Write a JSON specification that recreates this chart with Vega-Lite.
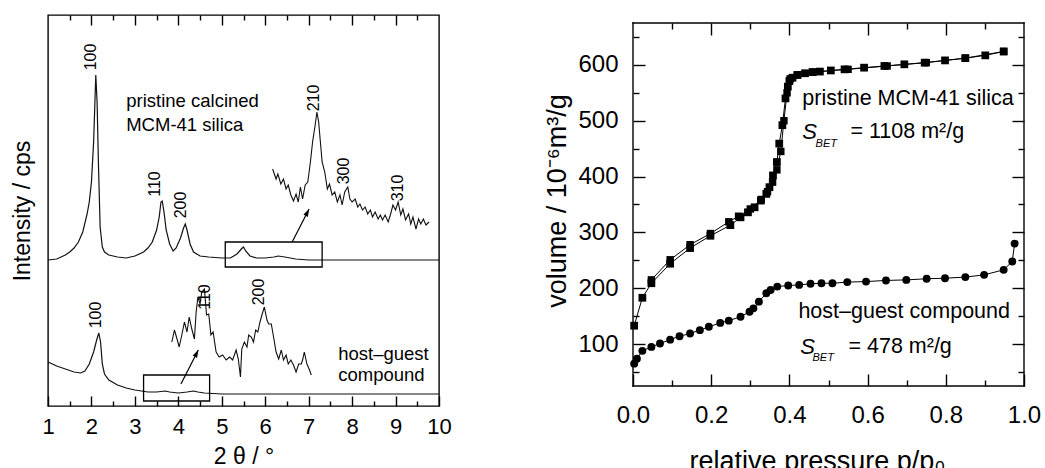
{
  "$schema": "https://vega.github.io/schema/vega-lite/v6.json",
  "padding": {"left": 10, "top": 13, "right": 0, "bottom": 0},
  "spacing": 91,
  "config": {
    "font": "Liberation Sans",
    "view": {"stroke": "black", "strokeWidth": 1.4},
    "axis": {"grid": false, "domain": false, "labelFlush": false, "labelOverlap": false, "tickColor": "black", "tickWidth": 1.4, "labelColor": "black", "titleColor": "black", "labelFont": "Liberation Sans", "titleFont": "Liberation Sans", "titleFontWeight": "normal", "labelFontWeight": "normal"}
  },
  "datasets": {
    "up": [
      {"t": 1.0, "v": 146}, {"t": 1.2, "v": 147}, {"t": 1.4, "v": 151}, {"t": 1.5, "v": 154}, {"t": 1.6, "v": 158}, {"t": 1.7, "v": 164}, {"t": 1.8, "v": 174}, {"t": 1.9, "v": 192}, {"t": 1.95, "v": 204}, {"t": 2.0, "v": 224}, {"t": 2.05, "v": 264}, {"t": 2.08, "v": 304}, {"t": 2.1, "v": 331}, {"t": 2.13, "v": 304}, {"t": 2.16, "v": 244}, {"t": 2.2, "v": 179}, {"t": 2.25, "v": 159}, {"t": 2.3, "v": 154}, {"t": 2.4, "v": 151}, {"t": 2.6, "v": 149}, {"t": 2.8, "v": 148}, {"t": 3.0, "v": 150}, {"t": 3.2, "v": 154}, {"t": 3.3, "v": 158}, {"t": 3.4, "v": 164}, {"t": 3.5, "v": 176}, {"t": 3.56, "v": 189}, {"t": 3.6, "v": 204}, {"t": 3.63, "v": 205}, {"t": 3.67, "v": 194}, {"t": 3.72, "v": 176}, {"t": 3.8, "v": 162}, {"t": 3.88, "v": 155}, {"t": 3.95, "v": 158}, {"t": 4.05, "v": 168}, {"t": 4.12, "v": 178}, {"t": 4.16, "v": 182}, {"t": 4.2, "v": 176}, {"t": 4.27, "v": 162}, {"t": 4.35, "v": 154}, {"t": 4.5, "v": 150}, {"t": 4.7, "v": 149}, {"t": 5.0, "v": 148}, {"t": 5.2, "v": 148}, {"t": 5.35, "v": 152}, {"t": 5.45, "v": 157}, {"t": 5.5, "v": 159}, {"t": 5.55, "v": 155}, {"t": 5.65, "v": 150}, {"t": 5.8, "v": 148}, {"t": 6.0, "v": 148}, {"t": 6.2, "v": 149}, {"t": 6.3, "v": 150}, {"t": 6.45, "v": 149}, {"t": 6.7, "v": 147}, {"t": 7.0, "v": 146}, {"t": 7.5, "v": 146}, {"t": 8.0, "v": 146}, {"t": 9.0, "v": 146}, {"t": 10.0, "v": 146}
    ],
    "upi": [
      {"t": 6.17, "v": 237}, {"t": 6.25, "v": 227}, {"t": 6.29, "v": 232}, {"t": 6.36, "v": 222}, {"t": 6.42, "v": 227}, {"t": 6.48, "v": 217}, {"t": 6.53, "v": 221}, {"t": 6.59, "v": 211}, {"t": 6.65, "v": 205}, {"t": 6.71, "v": 212}, {"t": 6.76, "v": 204}, {"t": 6.81, "v": 219}, {"t": 6.86, "v": 207}, {"t": 6.92, "v": 221}, {"t": 6.98, "v": 224}, {"t": 7.04, "v": 244}, {"t": 7.09, "v": 264}, {"t": 7.15, "v": 281}, {"t": 7.19, "v": 294}, {"t": 7.23, "v": 284}, {"t": 7.27, "v": 264}, {"t": 7.31, "v": 244}, {"t": 7.37, "v": 234}, {"t": 7.43, "v": 217}, {"t": 7.48, "v": 222}, {"t": 7.54, "v": 211}, {"t": 7.6, "v": 214}, {"t": 7.66, "v": 204}, {"t": 7.72, "v": 211}, {"t": 7.77, "v": 201}, {"t": 7.83, "v": 214}, {"t": 7.9, "v": 219}, {"t": 7.95, "v": 207}, {"t": 8.0, "v": 204}, {"t": 8.07, "v": 207}, {"t": 8.13, "v": 199}, {"t": 8.18, "v": 202}, {"t": 8.24, "v": 196}, {"t": 8.3, "v": 199}, {"t": 8.36, "v": 192}, {"t": 8.42, "v": 196}, {"t": 8.47, "v": 189}, {"t": 8.53, "v": 194}, {"t": 8.6, "v": 187}, {"t": 8.65, "v": 191}, {"t": 8.7, "v": 186}, {"t": 8.76, "v": 191}, {"t": 8.83, "v": 184}, {"t": 8.88, "v": 191}, {"t": 8.94, "v": 201}, {"t": 9.0, "v": 196}, {"t": 9.06, "v": 204}, {"t": 9.12, "v": 191}, {"t": 9.17, "v": 197}, {"t": 9.23, "v": 186}, {"t": 9.3, "v": 192}, {"t": 9.35, "v": 182}, {"t": 9.4, "v": 189}, {"t": 9.47, "v": 177}, {"t": 9.53, "v": 187}, {"t": 9.58, "v": 182}, {"t": 9.64, "v": 187}, {"t": 9.7, "v": 181}, {"t": 9.77, "v": 184}
    ],
    "lo": [
      {"t": 1.0, "v": 44}, {"t": 1.2, "v": 40}, {"t": 1.4, "v": 37}, {"t": 1.6, "v": 34}, {"t": 1.75, "v": 33}, {"t": 1.85, "v": 35}, {"t": 1.95, "v": 42}, {"t": 2.05, "v": 54}, {"t": 2.12, "v": 66}, {"t": 2.17, "v": 73}, {"t": 2.21, "v": 64}, {"t": 2.25, "v": 42}, {"t": 2.3, "v": 32}, {"t": 2.4, "v": 26}, {"t": 2.6, "v": 21}, {"t": 2.8, "v": 18}, {"t": 3.0, "v": 16}, {"t": 3.3, "v": 14}, {"t": 3.5, "v": 14}, {"t": 3.7, "v": 15}, {"t": 3.8, "v": 14}, {"t": 4.0, "v": 13}, {"t": 4.2, "v": 14}, {"t": 4.35, "v": 15}, {"t": 4.45, "v": 14}, {"t": 4.6, "v": 13}, {"t": 5.0, "v": 12}, {"t": 6.0, "v": 12}, {"t": 8.0, "v": 12}, {"t": 10.0, "v": 12}
    ],
    "loi": [
      {"t": 3.85, "v": 64}, {"t": 3.91, "v": 76}, {"t": 3.97, "v": 67}, {"t": 4.02, "v": 59}, {"t": 4.08, "v": 71}, {"t": 4.14, "v": 84}, {"t": 4.2, "v": 74}, {"t": 4.25, "v": 89}, {"t": 4.31, "v": 77}, {"t": 4.37, "v": 67}, {"t": 4.41, "v": 94}, {"t": 4.45, "v": 109}, {"t": 4.5, "v": 102}, {"t": 4.54, "v": 114}, {"t": 4.6, "v": 117}, {"t": 4.65, "v": 91}, {"t": 4.7, "v": 92}, {"t": 4.75, "v": 71}, {"t": 4.8, "v": 74}, {"t": 4.87, "v": 54}, {"t": 4.94, "v": 49}, {"t": 5.02, "v": 51}, {"t": 5.1, "v": 46}, {"t": 5.18, "v": 49}, {"t": 5.25, "v": 46}, {"t": 5.33, "v": 56}, {"t": 5.38, "v": 47}, {"t": 5.43, "v": 29}, {"t": 5.46, "v": 57}, {"t": 5.52, "v": 64}, {"t": 5.58, "v": 59}, {"t": 5.62, "v": 71}, {"t": 5.68, "v": 69}, {"t": 5.73, "v": 64}, {"t": 5.78, "v": 76}, {"t": 5.83, "v": 74}, {"t": 5.88, "v": 84}, {"t": 5.93, "v": 92}, {"t": 5.98, "v": 99}, {"t": 6.04, "v": 86}, {"t": 6.08, "v": 82}, {"t": 6.14, "v": 82}, {"t": 6.2, "v": 67}, {"t": 6.25, "v": 54}, {"t": 6.31, "v": 47}, {"t": 6.37, "v": 56}, {"t": 6.42, "v": 46}, {"t": 6.48, "v": 51}, {"t": 6.53, "v": 42}, {"t": 6.59, "v": 46}, {"t": 6.65, "v": 41}, {"t": 6.71, "v": 34}, {"t": 6.77, "v": 42}, {"t": 6.83, "v": 42}, {"t": 6.86, "v": 46}, {"t": 6.9, "v": 54}, {"t": 6.96, "v": 42}, {"t": 7.02, "v": 36}, {"t": 7.06, "v": 31}
    ],
    "boxes": [
      {"t1": 5.08, "t2": 7.31, "v1": 139, "v2": 164},
      {"t1": 3.2, "t2": 4.72, "v1": 5, "v2": 31}
    ],
    "arrows": [
      {"t1": 6.62, "v1": 164, "t2": 7.01, "v2": 197},
      {"t1": 4.06, "v1": 22, "t2": 4.46, "v2": 56}
    ],
    "hkl": [
      {"t": 1.99, "v": 349, "label": "100"},
      {"t": 3.46, "v": 222, "label": "110"},
      {"t": 4.06, "v": 201, "label": "200"},
      {"t": 7.13, "v": 308, "label": "210"},
      {"t": 7.81, "v": 235, "label": "300"},
      {"t": 9.06, "v": 218, "label": "310"},
      {"t": 2.1, "v": 91, "label": "100"},
      {"t": 4.61, "v": 109, "label": "110"},
      {"t": 5.86, "v": 114, "label": "200"}
    ],
    "notesL": [
      {"t": 2.8, "v": 305, "label": "pristine calcined"},
      {"t": 2.8, "v": 281, "label": "MCM-41 silica"},
      {"t": 7.68, "v": 52, "label": "host–guest"},
      {"t": 7.68, "v": 31, "label": "compound"}
    ],
    "frameR": [
      {"p1": 0, "p2": 1, "v1": 675, "v2": 675},
      {"p1": 0, "p2": 1, "v1": 25, "v2": 25},
      {"p1": 0, "p2": 0, "v1": 25, "v2": 675},
      {"p1": 1, "p2": 1, "v1": 25, "v2": 675}
    ],
    "sq": [
      {"p": 0.003, "v": 133}, {"p": 0.024, "v": 183}, {"p": 0.047, "v": 209}, {"p": 0.095, "v": 244}, {"p": 0.146, "v": 272}, {"p": 0.198, "v": 294}, {"p": 0.249, "v": 313}, {"p": 0.275, "v": 327}, {"p": 0.294, "v": 336}, {"p": 0.311, "v": 345}, {"p": 0.327, "v": 357}, {"p": 0.341, "v": 369}, {"p": 0.349, "v": 381}, {"p": 0.358, "v": 402}, {"p": 0.368, "v": 426}, {"p": 0.374, "v": 459}, {"p": 0.382, "v": 492}, {"p": 0.39, "v": 540}, {"p": 0.396, "v": 561}, {"p": 0.4, "v": 571}, {"p": 0.408, "v": 577}, {"p": 0.421, "v": 582}, {"p": 0.44, "v": 585}, {"p": 0.459, "v": 587}, {"p": 0.478, "v": 588}, {"p": 0.506, "v": 590}, {"p": 0.541, "v": 592}, {"p": 0.591, "v": 595}, {"p": 0.643, "v": 598}, {"p": 0.694, "v": 601}, {"p": 0.746, "v": 604}, {"p": 0.798, "v": 608}, {"p": 0.85, "v": 612}, {"p": 0.901, "v": 617}, {"p": 0.948, "v": 624}
    ],
    "sqd": [
      {"p": 0.948, "v": 624}, {"p": 0.85, "v": 612}, {"p": 0.75, "v": 604}, {"p": 0.65, "v": 598}, {"p": 0.55, "v": 592}, {"p": 0.46, "v": 587}, {"p": 0.42, "v": 582}, {"p": 0.402, "v": 575}, {"p": 0.394, "v": 550}, {"p": 0.386, "v": 500}, {"p": 0.378, "v": 445}, {"p": 0.368, "v": 412}, {"p": 0.357, "v": 390}, {"p": 0.344, "v": 373}, {"p": 0.328, "v": 359}, {"p": 0.3, "v": 342}, {"p": 0.27, "v": 329}, {"p": 0.245, "v": 319}, {"p": 0.198, "v": 298}, {"p": 0.146, "v": 278}, {"p": 0.095, "v": 251}, {"p": 0.047, "v": 215}
    ],
    "ci": [
      {"p": 0.003, "v": 65}, {"p": 0.01, "v": 74}, {"p": 0.024, "v": 88}, {"p": 0.047, "v": 95}, {"p": 0.069, "v": 101}, {"p": 0.095, "v": 108}, {"p": 0.119, "v": 114}, {"p": 0.146, "v": 119}, {"p": 0.171, "v": 125}, {"p": 0.194, "v": 131}, {"p": 0.223, "v": 138}, {"p": 0.245, "v": 142}, {"p": 0.275, "v": 149}, {"p": 0.298, "v": 158}, {"p": 0.308, "v": 164}, {"p": 0.322, "v": 176}, {"p": 0.341, "v": 191}, {"p": 0.352, "v": 197}, {"p": 0.369, "v": 203}, {"p": 0.397, "v": 205}, {"p": 0.425, "v": 206}, {"p": 0.454, "v": 208}, {"p": 0.482, "v": 209}, {"p": 0.51, "v": 209}, {"p": 0.548, "v": 211}, {"p": 0.596, "v": 212}, {"p": 0.647, "v": 214}, {"p": 0.699, "v": 215}, {"p": 0.751, "v": 217}, {"p": 0.798, "v": 218}, {"p": 0.85, "v": 220}, {"p": 0.898, "v": 224}, {"p": 0.948, "v": 233}, {"p": 0.97, "v": 248}, {"p": 0.976, "v": 280}
    ],
    "notesR": [
      {"p": 0.433, "v": 539, "label": "pristine MCM-41 silica"},
      {"p": 0.556, "v": 480, "label": "= 1108 m²/g"},
      {"p": 0.423, "v": 157, "label": "host–guest compound"},
      {"p": 0.551, "v": 95, "label": "= 478 m²/g"}
    ],
    "sR": [
      {"p": 0.433, "v": 480, "label": "S"},
      {"p": 0.428, "v": 95, "label": "S"}
    ],
    "subR": [
      {"p": 0.467, "v": 458, "label": "BET"},
      {"p": 0.459, "v": 75, "label": "BET"}
    ]
  },
  "hconcat": [
    {
      "width": 391,
      "height": 391,
      "resolve": {"axis": {"x": "independent", "y": "independent"}},
      "layer": [
        {
          "data": {"name": "up"},
          "mark": {"type": "line", "color": "#111", "strokeWidth": 1.2},
          "encoding": {
            "x": {"field": "t", "type": "quantitative", "scale": {"domain": [1, 10], "nice": false, "zero": false},
              "axis": {"orient": "bottom", "values": [1, 2, 3, 4, 5, 6, 7, 8, 9, 10], "format": "d", "offset": -10, "tickSize": 10, "labelPadding": 10, "labelFontSize": 22, "title": "2 θ / °", "titleFontSize": 23, "titlePadding": 8}},
            "y": {"field": "v", "type": "quantitative", "scale": {"domain": [0, 391], "nice": false, "zero": false},
              "axis": {"orient": "left", "labels": false, "ticks": false, "title": "Intensity / cps", "titleFontSize": 23, "titlePadding": 14}}
          }
        },
        {
          "data": {"name": "lo"},
          "mark": {"type": "line", "color": "#111", "strokeWidth": 1.2},
          "encoding": {
            "x": {"field": "t", "type": "quantitative", "axis": {"orient": "top", "values": [2, 3, 4, 5, 6, 7, 8, 9], "offset": -10, "tickSize": 10, "labels": false, "title": null}},
            "y": {"field": "v", "type": "quantitative", "axis": null}
          }
        },
        {
          "data": {"name": "upi"},
          "mark": {"type": "line", "color": "#111", "strokeWidth": 1.1},
          "encoding": {
            "x": {"field": "t", "type": "quantitative", "axis": {"orient": "bottom", "values": [1.5, 2.5, 3.5, 4.5, 5.5, 6.5, 7.5, 8.5, 9.5], "offset": -5, "tickSize": 5, "labels": false, "title": null}},
            "y": {"field": "v", "type": "quantitative", "axis": null}
          }
        },
        {
          "data": {"name": "loi"},
          "mark": {"type": "line", "color": "#111", "strokeWidth": 1.1},
          "encoding": {
            "x": {"field": "t", "type": "quantitative", "axis": {"orient": "top", "values": [1.5, 2.5, 3.5, 4.5, 5.5, 6.5, 7.5, 8.5, 9.5], "offset": -5, "tickSize": 5, "labels": false, "title": null}},
            "y": {"field": "v", "type": "quantitative", "axis": null}
          }
        },
        {
          "data": {"name": "boxes"},
          "mark": {"type": "rect", "fill": null, "fillOpacity": 0, "stroke": "black", "strokeWidth": 1.3},
          "encoding": {
            "x": {"field": "t1", "type": "quantitative", "axis": null},
            "x2": {"field": "t2"},
            "y": {"field": "v1", "type": "quantitative", "axis": null},
            "y2": {"field": "v2"}
          }
        },
        {
          "data": {"name": "arrows"},
          "mark": {"type": "rule", "color": "black", "strokeWidth": 1.2},
          "encoding": {
            "x": {"field": "t1", "type": "quantitative", "axis": null},
            "x2": {"field": "t2"},
            "y": {"field": "v1", "type": "quantitative", "axis": null},
            "y2": {"field": "v2"}
          }
        },
        {
          "data": {"name": "arrows"},
          "mark": {"type": "point", "shape": "M0,0L0.33,1L-0.33,1Z", "filled": true, "color": "black", "opacity": 1, "size": 230, "angle": 27},
          "encoding": {
            "x": {"field": "t2", "type": "quantitative", "axis": null},
            "y": {"field": "v2", "type": "quantitative", "axis": null}
          }
        },
        {
          "data": {"name": "hkl"},
          "mark": {"type": "text", "angle": 270, "align": "center", "baseline": "middle", "fontSize": 16, "color": "black"},
          "encoding": {
            "x": {"field": "t", "type": "quantitative", "axis": null},
            "y": {"field": "v", "type": "quantitative", "axis": null},
            "text": {"field": "label"}
          }
        },
        {
          "data": {"name": "notesL"},
          "mark": {"type": "text", "align": "left", "baseline": "middle", "fontSize": 18.5, "color": "black"},
          "encoding": {
            "x": {"field": "t", "type": "quantitative", "axis": null},
            "y": {"field": "v", "type": "quantitative", "axis": null},
            "text": {"field": "label"}
          }
        }
      ]
    },
    {
      "width": 391,
      "height": 371,
      "view": {"stroke": null},
      "resolve": {"axis": {"x": "independent", "y": "independent"}},
      "layer": [
        {
          "data": {"name": "sq"},
          "mark": {"type": "line", "color": "black", "strokeWidth": 1},
          "encoding": {
            "x": {"field": "p", "type": "quantitative", "scale": {"domain": [0, 1], "nice": false, "zero": false},
              "axis": {"orient": "bottom", "values": [0, 0.2, 0.4, 0.6, 0.8, 1.0], "format": ".1f", "offset": -12, "tickSize": 12, "labelPadding": 17, "labelFontSize": 24, "title": "relative pressure p/p₀", "titleFontSize": 27, "titlePadding": 21, "titleX": 184}},
            "y": {"field": "v", "type": "quantitative", "scale": {"domain": [25, 689.3], "nice": false, "zero": false},
              "axis": {"orient": "left", "values": [100, 200, 300, 400, 500, 600], "offset": -12, "tickSize": 12, "labelPadding": 15, "labelFontSize": 24, "title": "volume / 10⁻⁶m³/g", "titleFontSize": 27, "titlePadding": 6}}
          }
        },
        {
          "data": {"name": "sqd"},
          "mark": {"type": "line", "color": "black", "strokeWidth": 1},
          "encoding": {
            "x": {"field": "p", "type": "quantitative", "axis": {"orient": "top", "values": [0.2, 0.4, 0.6, 0.8], "offset": -20, "tickSize": 12, "labels": false, "title": null}},
            "y": {"field": "v", "type": "quantitative", "axis": {"orient": "right", "values": [100, 200, 300, 400, 500, 600], "offset": -12, "tickSize": 12, "labels": false, "title": null}}
          }
        },
        {
          "data": {"name": "ci"},
          "mark": {"type": "line", "color": "black", "strokeWidth": 1},
          "encoding": {
            "x": {"field": "p", "type": "quantitative", "axis": {"orient": "bottom", "values": [0.1, 0.3, 0.5, 0.7, 0.9], "offset": -6, "tickSize": 6, "labels": false, "title": null}},
            "y": {"field": "v", "type": "quantitative", "axis": {"orient": "left", "values": [50, 150, 250, 350, 450, 550, 650], "offset": -6, "tickSize": 6, "labels": false, "title": null}}
          }
        },
        {
          "data": {"name": "ci"},
          "mark": {"type": "point", "shape": "circle", "filled": true, "color": "black", "opacity": 1, "size": 62},
          "encoding": {
            "x": {"field": "p", "type": "quantitative", "axis": {"orient": "top", "values": [0.1, 0.3, 0.5, 0.7, 0.9], "offset": -14, "tickSize": 6, "labels": false, "title": null}},
            "y": {"field": "v", "type": "quantitative", "axis": {"orient": "right", "values": [50, 150, 250, 350, 450, 550, 650], "offset": -6, "tickSize": 6, "labels": false, "title": null}}
          }
        },
        {
          "data": {"name": "frameR"},
          "mark": {"type": "rule", "color": "black", "strokeWidth": 1.4, "strokeCap": "square"},
          "encoding": {
            "x": {"field": "p1", "type": "quantitative", "axis": null},
            "x2": {"field": "p2"},
            "y": {"field": "v1", "type": "quantitative", "axis": null},
            "y2": {"field": "v2"}
          }
        },
        {
          "data": {"name": "sq"},
          "mark": {"type": "point", "shape": "square", "filled": true, "color": "black", "opacity": 1, "size": 60},
          "encoding": {
            "x": {"field": "p", "type": "quantitative", "axis": null},
            "y": {"field": "v", "type": "quantitative", "axis": null}
          }
        },
        {
          "data": {"name": "sqd"},
          "mark": {"type": "point", "shape": "square", "filled": true, "color": "black", "opacity": 1, "size": 55},
          "encoding": {
            "x": {"field": "p", "type": "quantitative", "axis": null},
            "y": {"field": "v", "type": "quantitative", "axis": null}
          }
        },
        {
          "data": {"name": "notesR"},
          "mark": {"type": "text", "align": "left", "baseline": "middle", "fontSize": 21.5, "color": "black"},
          "encoding": {
            "x": {"field": "p", "type": "quantitative", "axis": null},
            "y": {"field": "v", "type": "quantitative", "axis": null},
            "text": {"field": "label"}
          }
        },
        {
          "data": {"name": "sR"},
          "mark": {"type": "text", "align": "left", "baseline": "middle", "fontSize": 22, "fontStyle": "italic", "color": "black"},
          "encoding": {
            "x": {"field": "p", "type": "quantitative", "axis": null},
            "y": {"field": "v", "type": "quantitative", "axis": null},
            "text": {"field": "label"}
          }
        },
        {
          "data": {"name": "subR"},
          "mark": {"type": "text", "align": "left", "baseline": "middle", "fontSize": 11, "fontStyle": "italic", "color": "black"},
          "encoding": {
            "x": {"field": "p", "type": "quantitative", "axis": null},
            "y": {"field": "v", "type": "quantitative", "axis": null},
            "text": {"field": "label"}
          }
        }
      ]
    }
  ]
}
